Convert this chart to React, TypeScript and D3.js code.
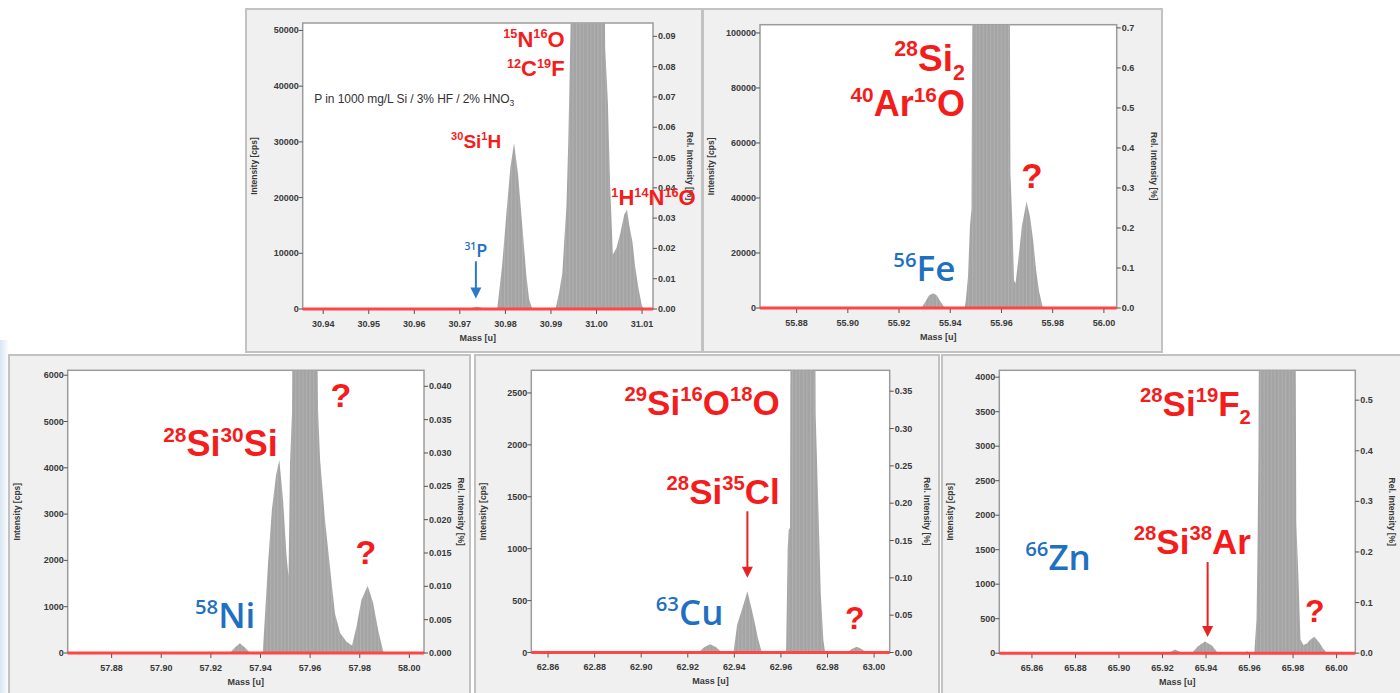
import React from 'react'
import * as d3 from 'd3'

// ---------- data ----------
// panel 1 : m/z 31
const p1Mass = [30.9355, 30.9721, 30.9730, 30.9737, 30.9745, 30.9754,
  30.9782, 30.9793, 30.9802, 30.9811, 30.9819, 30.9828, 30.9837, 30.9846, 30.9852, 30.9859,
  30.9910, 30.9918, 30.9925, 30.9929, 30.9934, 30.9938, 30.9941, 30.9945, 31.0018, 31.0019,
  31.0025, 31.0030, 31.0036, 31.0044, 31.0052, 31.0061, 31.0067, 31.0072, 31.0079, 31.0085,
  31.0092, 31.0099, 31.0103, 31.0124]
const p1Cps = [0, 0, 250, 420, 250, 0,
  0, 8000, 17000, 25500, 29800, 24000, 15000, 6000, 1800, 0,
  0, 3000, 6500, 12000, 18500, 30000, 42000, 60000, 60000, 47000,
  37000, 22000, 9800, 11000, 13500, 17000, 17800, 15000, 12000, 7500,
  3800, 800, 0, 0]
const p1XTicks = [30.94, 30.95, 30.96, 30.97, 30.98, 30.99, 31.00, 31.01]
const p1YTicks = [0, 10000, 20000, 30000, 40000, 50000]
const p1RTicks = [0, 0.01, 0.02, 0.03, 0.04, 0.05, 0.06, 0.07, 0.08, 0.09]

// panel 2 : m/z 56
const p2Mass = [55.8657, 55.9288, 55.9301, 55.9317, 55.9333, 55.9348, 55.9364, 55.9379,
  55.9456, 55.9461, 55.9469, 55.9477, 55.9483, 55.9487, 55.9632, 55.9635, 55.9643, 55.9649,
  55.9655, 55.9665, 55.9680, 55.9698, 55.9712, 55.9725, 55.9735, 55.9747, 55.9762, 56.005]
const p2Cps = [0, 0, 2000, 4500, 5400, 4500, 2000, 0,
  0, 3000, 11000, 30000, 36000, 130000, 130000, 49000, 30000, 10000,
  9000, 17000, 30000, 38700, 33000, 23500, 14000, 6000, 0, 0]
const p2XTicks = [55.88, 55.90, 55.92, 55.94, 55.96, 55.98, 56.00]
const p2YTicks = [0, 20000, 40000, 60000, 80000, 100000]
const p2RTicks = [0, 0.1, 0.2, 0.3, 0.4, 0.5, 0.6, 0.7]

// panel 3 : m/z 58
const p3Mass = [57.8623, 57.9277, 57.9297, 57.9317, 57.9337, 57.9358,
  57.9409, 57.9418, 57.9430, 57.9446, 57.9463, 57.9476, 57.9491, 57.9505, 57.9513, 57.9519,
  57.9527, 57.9531, 57.9626, 57.9632, 57.9640, 57.9660, 57.9680, 57.9700, 57.9721, 57.9747,
  57.9769, 57.9787, 57.9807, 57.9832, 57.9854, 57.9874, 57.9896, 58.0059]
const p3Cps = [0, 0, 120, 210, 120, 0,
  0, 800, 1900, 3100, 3850, 4170, 3300, 2100, 1650, 4100,
  5200, 9000, 9000, 5250, 4200, 2870, 1860, 860, 430, 245,
  160, 570, 1150, 1450, 1080, 500, 0, 0]
const p3XTicks = [57.88, 57.90, 57.92, 57.94, 57.96, 57.98, 58.00]
const p3YTicks = [0, 1000, 2000, 3000, 4000, 5000, 6000]
const p3RTicks = [0, 0.005, 0.01, 0.015, 0.02, 0.025, 0.03, 0.035, 0.04]

// panel 4 : m/z 63
const p4Mass = [62.8528, 62.9246, 62.9270, 62.9296, 62.9322, 62.9346,
  62.9396, 62.9412, 62.9432, 62.9456, 62.9482, 62.9502, 62.9518,
  62.9622, 62.9629, 62.9633, 62.9639, 62.9643, 62.9745, 62.9749, 62.9761, 62.9771, 62.9782, 62.9790,
  62.9883, 62.9906, 62.9926, 62.9944, 62.9969, 63.0067]
const p4Cps = [0, 0, 50, 80, 50, 0,
  0, 270, 410, 590, 345, 130, 0,
  0, 1000, 1180, 1200, 5000, 5000, 2300, 1370, 570, 120, 0,
  0, 35, 55, 35, 0, 0]
const p4XTicks = [62.86, 62.88, 62.90, 62.92, 62.94, 62.96, 62.98, 63.00]
const p4YTicks = [0, 500, 1000, 1500, 2000, 2500]
const p4RTicks = [0, 0.05, 0.1, 0.15, 0.2, 0.25, 0.3, 0.35]

// panel 5 : m/z 66
const p5Mass = [65.845, 65.9226, 65.9257, 65.9295,
  65.9334, 65.9363, 65.9395, 65.9427, 65.9455,
  65.9570, 65.9588, 65.9606,
  65.9622, 65.9632, 65.9636, 65.9641, 65.9645, 65.9810, 65.9815, 65.9824, 65.9834, 65.9847,
  65.9864, 65.9877, 65.9898, 65.9923, 65.9939, 65.9958, 66.0086]
const p5Cps = [0, 0, 55, 0,
  0, 100, 170, 110, 0,
  0, 30, 0,
  0, 500, 1350, 2900, 6000, 6000, 1880, 1160, 200, 120,
  140, 190, 240, 145, 60, 0, 0]
const p5XTicks = [65.86, 65.88, 65.90, 65.92, 65.94, 65.96, 65.98, 66.00]
const p5YTicks = [0, 500, 1000, 1500, 2000, 2500, 3000, 3500, 4000]
const p5RTicks = [0, 0.1, 0.2, 0.3, 0.4, 0.5]

// ---------- styling ----------
const RED = '#f51c1c'
const BLUE = '#1f70c1'
const RED_FONT = '"Liberation Sans", Arial, sans-serif'
const BLUE_FONT = '"Open Sans", "Noto Sans", sans-serif'
const TICK_FONT = '"Liberation Sans", Arial, sans-serif'

type Part = [string, '' | 'sup' | 'sub']
type Label = { parts: Part[]; m: number; v: number; size: number; color: string; anchor: string; font?: string; weight?: number }
type Arrow = { m: number; v0: number; v1: number; color: string }

const R = (parts: Part[], m: number, v: number, size = 35, anchor = 'end'): Label =>
  ({ parts, m, v, size, color: RED, anchor, font: RED_FONT, weight: 700 })
const B = (parts: Part[], m: number, v: number, size = 35): Label =>
  ({ parts, m, v, size, color: BLUE, anchor: 'start', font: BLUE_FONT, weight: 600 })

const panels = [
  {
    id: 'p1', outer: [246, 9, 702, 352], plot: [302.7, 23, 653, 309],
    xDom: [30.9355, 31.0124], yTop: 51340, rTop: 0.0944,
    mass: p1Mass, cps: p1Cps, xTicks: p1XTicks, yTicks: p1YTicks, rTicks: p1RTicks, rFmt: '.2f',
    labels: [
      R([['15', 'sup'], ['N', ''], ['16', 'sup'], ['O', '']], 30.9930, 46980, 22),
      R([['12', 'sup'], ['C', ''], ['19', 'sup'], ['F', '']], 30.9930, 41770, 22),
      R([['30', 'sup'], ['Si', ''], ['1', 'sup'], ['H', '']], 30.97908, 28900, 19),
      R([['1', 'sup'], ['H', ''], ['14', 'sup'], ['N', ''], ['16', 'sup'], ['O', '']], 31.00326, 18610, 22, 'start'),
      { ...B([['31', 'sup'], ['P', '']], 30.97352, 9330, 18), anchor: 'middle' },
    ] as Label[],
    arrows: [{ m: 30.97352, v0: 8560, v1: 1900, color: '#2a7ac8' }] as Arrow[],
    note: { m: 30.93805, v: 36980 },
  },
  {
    id: 'p2', outer: [703, 9, 1162, 352], plot: [760, 24.7, 1116.7, 308],
    xDom: [55.8657, 56.005], yTop: 103000, rTop: 0.708,
    mass: p2Mass, cps: p2Cps, xTicks: p2XTicks, yTicks: p2YTicks, rTicks: p2RTicks, rFmt: '.1f',
    labels: [
      R([['28', 'sup'], ['Si', ''], ['2', 'sub']], 55.94575, 86060, 37),
      R([['40', 'sup'], ['Ar', ''], ['16', 'sup'], ['O', '']], 55.94575, 69700, 36),
      { ...R([['?', '']], 55.97192, 43630, 35), anchor: 'middle' },
      B([['56', 'sup'], ['Fe', '']], 55.91775, 9710),
    ] as Label[],
    arrows: [] as Arrow[],
  },
  {
    id: 'p3', outer: [9, 355, 470, 700], plot: [67.7, 370.3, 424, 653],
    xDom: [57.8623, 58.0059], yTop: 6106, rTop: 0.0424,
    mass: p3Mass, cps: p3Cps, xTicks: p3XTicks, yTicks: p3YTicks, rTicks: p3RTicks, rFmt: '.3f',
    labels: [
      R([['28', 'sup'], ['Si', ''], ['30', 'sup'], ['Si', '']], 57.90081, 4255, 36, 'start'),
      { ...R([['?', '']], 57.97238, 5314, 34), anchor: 'middle' },
      { ...R([['?', '']], 57.98246, 1929, 34), anchor: 'middle' },
      B([['58', 'sup'], ['Ni', '']], 57.91359, 540),
    ] as Label[],
    arrows: [] as Arrow[],
  },
  {
    id: 'p4', outer: [475, 355, 939, 700], plot: [531.3, 370.3, 889.7, 652.5],
    xDom: [62.8528, 63.0067], yTop: 2718, rTop: 0.378,
    mass: p4Mass, cps: p4Cps, xTicks: p4XTicks, yTicks: p4YTicks, rTicks: p4RTicks, rFmt: '.2f',
    labels: [
      R([['29', 'sup'], ['Si', ''], ['16', 'sup'], ['O', ''], ['18', 'sup'], ['O', '']], 62.9595, 2284),
      R([['28', 'sup'], ['Si', ''], ['35', 'sup'], ['Cl', '']], 62.9595, 1433),
      { ...R([['?', '']], 62.99171, 229, 32), anchor: 'middle' },
      B([['63', 'sup'], ['Cu', '']], 62.90625, 262),
    ] as Label[],
    arrows: [{ m: 62.94559, v0: 1360, v1: 720, color: '#e82222' }] as Arrow[],
  },
  {
    id: 'p5', outer: [942, 355, 1402, 700], plot: [999.3, 370.3, 1355.3, 653.2],
    xDom: [65.845, 66.0086], yTop: 4100, rTop: 0.559,
    mass: p5Mass, cps: p5Cps, xTicks: p5XTicks, yTicks: p5YTicks, rTicks: p5RTicks, rFmt: '.1f',
    labels: [
      R([['28', 'sup'], ['Si', ''], ['19', 'sup'], ['F', ''], ['2', 'sub']], 65.96062, 3437),
      R([['28', 'sup'], ['Si', ''], ['38', 'sup'], ['Ar', '']], 65.96062, 1442),
      { ...R([['?', '']], 65.98994, 452, 32), anchor: 'middle' },
      B([['66', 'sup'], ['Zn', '']], 65.85692, 1201),
    ] as Label[],
    arrows: [{ m: 65.94073, v0: 1321, v1: 235, color: '#e82222' }] as Arrow[],
  },
]

function Formula({ l, x, y }: { l: Label; x: number; y: number }) {
  let shift = 0
  const spans = l.parts.map(([t, k], i) => {
    const target = k === 'sup' ? -0.4 * l.size : k === 'sub' ? 0.24 * l.size : 0
    const dy = target - shift
    shift = target
    return (
      <tspan key={i} dy={dy} fontSize={k ? l.size * 0.58 : l.size}>{t}</tspan>
    )
  })
  return (
    <text x={x} y={y} fill={l.color} fontFamily={l.font} fontWeight={l.weight}
      textAnchor={l.anchor} fontSize={l.size}>{spans}</text>
  )
}

function Panel({ p }: { p: typeof panels[number] }) {
  const [ox0, oy0, ox1, oy1] = p.outer
  const [px0, py0, px1, py1] = p.plot
  const x = d3.scaleLinear().domain(p.xDom).range([px0, px1])
  const y = d3.scaleLinear().domain([0, p.yTop]).range([py1, py0])
  const yr = d3.scaleLinear().domain([0, p.rTop]).range([py1, py0])
  const pts = p.mass.map((m, i) => [m, p.cps[i]] as [number, number])
  const area = d3.area<[number, number]>().x(d => x(d[0])).y0(y(0)).y1(d => y(d[1]))
  const fx = d3.format('.2f')
  const fr = d3.format(p.rFmt)
  const cy = (py0 + py1) / 2
  const tick = { fontFamily: TICK_FONT, fontSize: 9, fontWeight: 700, fill: '#3a3a3a' }
  return (
    <g>
      <rect x={ox0} y={oy0} width={ox1 - ox0} height={oy1 - oy0} fill="#f0f0f0" stroke="#c2c2c2" strokeWidth={2} />
      <clipPath id={`clip-${p.id}`}>
        <rect x={px0} y={py0} width={px1 - px0} height={py1 - py0} />
      </clipPath>
      <rect x={px0} y={py0} width={px1 - px0} height={py1 - py0} fill="#fff" stroke="#9c9c9c" strokeWidth={1.5} />
      <path d={area(pts) ?? ''} fill="url(#bars)" clipPath={`url(#clip-${p.id})`} />
      <line x1={px0} x2={px1} y1={y(0)} y2={y(0)} stroke="#ff4545" strokeWidth={3} />
      {/* x axis */}
      {p.xTicks.map(t => (
        <g key={t}>
          <line x1={x(t)} x2={x(t)} y1={py1 + 1} y2={py1 + 5} stroke="#555" />
          <text x={x(t)} y={py1 + 17.5} textAnchor="middle" {...tick}>{fx(t)}</text>
        </g>
      ))}
      <text x={(px0 + px1) / 2} y={py1 + 31.5} textAnchor="middle" {...tick}>Mass [u]</text>
      {/* left axis */}
      {p.yTicks.map(t => (
        <g key={t}>
          <line x1={px0 - 4} x2={px0} y1={y(t)} y2={y(t)} stroke="#555" />
          <text x={px0 - 4} y={y(t) + 3} textAnchor="end" {...tick}>{t}</text>
        </g>
      ))}
      <text transform={`translate(${ox0 + 11},${cy}) rotate(-90)`} textAnchor="middle" {...tick} fontSize={8.5}>Intensity [cps]</text>
      {/* right axis */}
      {p.rTicks.map(t => (
        <g key={t}>
          <line x1={px1} x2={px1 + 4} y1={yr(t)} y2={yr(t)} stroke="#555" />
          <text x={px1 + 5} y={yr(t) + 3} textAnchor="start" {...tick}>{fr(t)}</text>
        </g>
      ))}
      <text transform={`translate(${px1 + 34},${cy}) rotate(90)`} textAnchor="middle" {...tick} fontSize={8.5}>Rel. Intensity [%]</text>
      {'note' in p && p.note && (
        <text x={x(p.note.m)} y={y(p.note.v)} fontFamily={TICK_FONT} fontSize={12} fill="#333" textLength={200}>
          P in 1000 mg/L Si / 3% HF / 2% HNO<tspan dy={3} fontSize={8.5}>3</tspan>
        </text>
      )}
      {p.arrows.map((a, i) => {
        const ax = x(a.m), a0 = y(a.v0), a1 = y(a.v1)
        return (
          <g key={i}>
            <line x1={ax} x2={ax} y1={a0} y2={a1 - 10} stroke={a.color} strokeWidth={2} />
            <path d={`M${ax - 5.5},${a1 - 11}L${ax + 5.5},${a1 - 11}L${ax},${a1}Z`} fill={a.color} />
          </g>
        )
      })}
      {p.labels.map((l, i) => <Formula key={i} l={l} x={x(l.m)} y={y(l.v)} />)}
    </g>
  )
}

export default function App() {
  return (
    <div style={{ position: 'absolute', left: 0, top: 0 }}>
      <svg width={1400} height={693} style={{ display: 'block' }}>
        <defs>
          <pattern id="bars" width={3.6} height={10} patternUnits="userSpaceOnUse">
            <rect width={3.6} height={10} fill="#a4a4a4" />
            <line x1={0.6} x2={0.6} y1={0} y2={10} stroke="#b3b3b3" strokeWidth={0.9} />
          </pattern>
          <linearGradient id="edge" x1="0" x2="1" y1="0" y2="0">
            <stop offset="0" stopColor="#d9e6f3" />
            <stop offset="1" stopColor="#ffffff" />
          </linearGradient>
        </defs>
        <rect width={1400} height={693} fill="#fff" />
        <rect x={0} y={340} width={9} height={353} fill="url(#edge)" />
        {panels.map(p => <Panel key={p.id} p={p} />)}
      </svg>
    </div>
  )
}
